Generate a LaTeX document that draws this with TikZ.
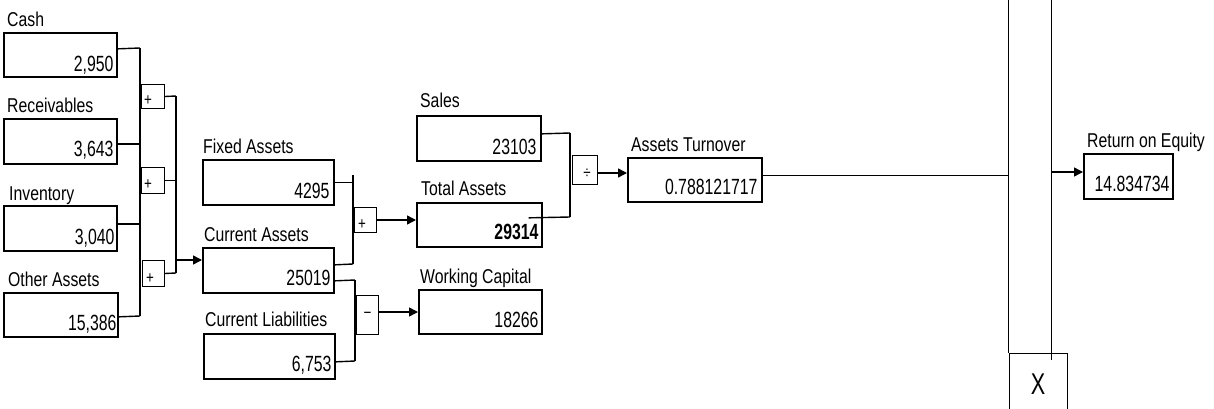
\documentclass[tikz,border=0pt]{standalone}
\usepackage{fontspec}
\setmainfont{Liberation Sans}[FakeStretch=0.79]
\newfontfamily\lblfont{Liberation Sans}[FakeStretch=0.79]
\newfontfamily\valfont{Liberation Sans}[FakeStretch=0.72]
\usetikzlibrary{arrows.meta}
\begin{document}
\begin{tikzpicture}[x=1pt,y=-1pt,
  box/.style={draw, line width=1.7pt, inner sep=0pt, anchor=north west},
  opbox/.style={draw, line width=1pt, inner sep=0pt, anchor=north west},
  lbl/.style={inner sep=0pt, anchor=base west, font=\lblfont\fontsize{20}{22}\selectfont},
  val/.style={inner sep=0pt, anchor=base east, font=\valfont\fontsize{22}{24}\selectfont},
  opsym/.style={inner sep=0pt, font=\lblfont\fontsize{17}{17}\selectfont},
  wire/.style={line width=1.4pt},
  thinwire/.style={line width=1pt},
  arr/.style={line width=1.4pt, -{Triangle[length=9pt,width=9pt]}},
]
\useasboundingbox (0,0) rectangle (1214,409);

% ---------- input boxes (left column)
\node[box, minimum width=113pt, minimum height=44pt] (cash) at (3,32) {};
\node[lbl] (cashL) at ([xshift=4pt,yshift=5pt]cash.north west) {Cash};
\node[val] (cashV) at ([xshift=-4pt,yshift=6pt]cash.south east) {2,950};

\node[box, minimum width=113pt, minimum height=45pt] (recv) at (3,118) {};
\node[lbl] (recvL) at ([xshift=4pt,yshift=5pt]recv.north west) {Receivables};
\node[val] (recvV) at ([xshift=-4pt,yshift=8pt]recv.south east) {3,643};

\node[box, minimum width=113pt, minimum height=45pt] (inv) at (3,205) {};
\node[lbl] (invL) at ([xshift=6pt,yshift=5pt]inv.north west) {Inventory};
\node[val] (invV) at ([xshift=-3pt,yshift=7pt]inv.south east) {3,040};

\node[box, minimum width=114pt, minimum height=44pt] (other) at (3,292) {};
\node[lbl] (otherL) at ([xshift=5pt,yshift=6pt]other.north west) {Other Assets};
\node[val] (otherV) at ([xshift=-2pt,yshift=7pt]other.south east) {15,386};

% ---------- second column
\node[box, minimum width=131pt, minimum height=45pt] (fixed) at (202,159) {};
\node[lbl] (fixedL) at ([xshift=1pt,yshift=6pt]fixed.north west) {Fixed Assets};
\node[val] (fixedV) at ([xshift=-5pt,yshift=7pt]fixed.south east) {4295};

\node[box, minimum width=131pt, minimum height=45pt] (curA) at (202,247) {};
\node[lbl] (curAL) at ([xshift=2pt,yshift=6pt]curA.north west) {Current Assets};
\node[val] (curAV) at ([xshift=-4pt,yshift=8pt]curA.south east) {25019};

\node[box, minimum width=131pt, minimum height=45pt] (curL) at (203,333) {};
\node[lbl] (curLL) at ([xshift=2pt,yshift=7pt]curL.north west) {Current Liabilities};
\node[val] (curLV) at ([xshift=-4pt,yshift=8pt]curL.south east) {6,753};

% ---------- third column
\node[box, minimum width=124pt, minimum height=45pt] (sales) at (416,115) {};
\node[lbl] (salesL) at ([xshift=4pt,yshift=7pt]sales.north west) {Sales};
\node[val] (salesV) at ([xshift=-5pt,yshift=7pt]sales.south east) {23103};

\node[box, minimum width=125pt, minimum height=44pt] (total) at (416,202) {};
\node[lbl] (totalL) at ([xshift=5pt,yshift=7pt]total.north west) {Total Assets};
\node[val] (totalV) at ([xshift=-4pt,yshift=8pt]total.south east) {\textbf{29314}};

\node[box, minimum width=123pt, minimum height=44pt] (wc) at (418,289) {};
\node[lbl] (wcL) at ([xshift=2pt,yshift=6pt]wc.north west) {Working Capital};
\node[val] (wcV) at ([xshift=-4pt,yshift=7pt]wc.south east) {18266};

% ---------- fourth column
\node[box, minimum width=134pt, minimum height=44pt] (turn) at (627,157) {};
\node[lbl] (turnL) at ([xshift=4pt,yshift=6pt]turn.north west) {Assets Turnover};
\node[val] (turnV) at ([xshift=-5pt,yshift=8pt]turn.south east) {0.788121717};

\node[box, minimum width=89pt, minimum height=45pt] (roe) at (1083,153) {};
\node[lbl] (roeL) at ([xshift=4pt,yshift=6pt]roe.north west) {Return on Equity};
\node[val] (roeV) at ([xshift=-4pt,yshift=8pt]roe.south east) {14.834734};

% ---------- operator boxes
\node[opbox, minimum width=23pt, minimum height=24pt] (p1) at (141,84) {};
\node[opsym] (p1s) at ([xshift=7pt,yshift=8pt]p1.south west) {+};
\node[opbox, minimum width=23pt, minimum height=26pt] (p2) at (141,167) {};
\node[opsym] (p2s) at ([xshift=7pt,yshift=9pt]p2.south west) {+};
\node[opbox, minimum width=22pt, minimum height=26pt] (p3) at (142,260) {};
\node[opsym] (p3s) at ([xshift=8pt,yshift=8pt]p3.south west) {+};
\node[opbox, minimum width=22pt, minimum height=25pt] (pFA) at (354,207) {};
\node[opsym] (pFAs) at ([xshift=8pt,yshift=8pt]pFA.south west) {+};
\node[opbox, minimum width=22pt, minimum height=39pt] (minus) at (356,295) {};
\node[opsym] (minuss) at (minus.center) {−};
\node[opbox, minimum width=25pt, minimum height=29pt] (div) at (572,155) {};
\node[opsym] (divs) at ([xshift=2pt,yshift=-4pt]div.center) {÷};

\node[opbox, minimum width=58pt, minimum height=80pt] (xop) at (1009,353) {};
\node[inner sep=0pt, font=\valfont\fontsize{30}{30}\selectfont] (xs) at (1038,384) {X};

% ---------- connectors: first sum
\coordinate (b1top) at (140,48);
\coordinate (b1bot) at (140,316);
\draw[wire] (b1top) -- (b1bot);
\draw[wire] ([yshift=6pt]cash.east) -- (b1top);
\draw[wire] ([yshift=-2.5pt]recv.east) -| (b1top);
\draw[wire] ([yshift=4.5pt]inv.east) -| (b1top);
\draw[wire] ([yshift=-2pt]other.east) -- (b1bot);

\coordinate (b2top) at (176,96);
\coordinate (b2bot) at (176,273);
\coordinate (b2arr) at (176,260);
\draw[wire] (b2top) -- (b2bot);
\draw[wire] (p1.east) -- (b2top);
\draw[wire] (p2.east) -| (b2top);
\draw[wire] (p3.east) -- (b2bot);
\draw[arr] (b2arr) -- (b2arr -| curA.west);

% ---------- total assets sum
\coordinate (b3top) at (353,175);
\coordinate (b3bot) at (353,264);
\draw[wire] (b3top) -- (b3bot);
\draw[wire] (fixed.east) -- (fixed.east -| b3top);
\draw[wire] ([yshift=5.5pt]curA.east) -- (b3bot);
\draw[arr] (pFA.east) -- (pFA.east -| total.west);

% ---------- working capital difference
\coordinate (b4top) at (355,280);
\coordinate (b4bot) at (355,361);
\draw[wire] (b4top) -- (b4bot);
\draw[wire] ([yshift=-10.5pt]curA.east) -- (b4top);
\draw[wire] ([yshift=-5.5pt]curL.east) -- (b4bot);
\coordinate (m1) at (378,312);
\draw[arr] (m1) -- (m1 -| wc.west);

% ---------- assets turnover ratio
\coordinate (b5top) at (570,133);
\coordinate (b5bot) at (570,217);
\draw[wire] (b5top) -- (b5bot);
\draw[wire] ([yshift=4.5pt]sales.east) -- (b5top);
\draw[wire] ([xshift=-14pt,yshift=7pt]total.east) -- (b5bot);
\coordinate (d1) at (597,173);
\draw[arr] (d1) -- (d1 -| turn.west);

% ---------- to the product
\coordinate (vAtop) at (1008,-2);
\coordinate (vAbot) at (1008,353);
\coordinate (t1) at (761,175);
\draw[thinwire] (vAtop) -- (vAbot);
\draw[thinwire] (t1) -- (t1 -| vAtop);
\coordinate (vBtop) at (1051,-2);
\coordinate (vBbot) at (1051,360);
\draw[thinwire] (vBtop) -- (vBbot);
\coordinate (rA) at (1051,172);
\draw[arr] (rA) -- (rA -| roe.west);
\end{tikzpicture}
\end{document}
